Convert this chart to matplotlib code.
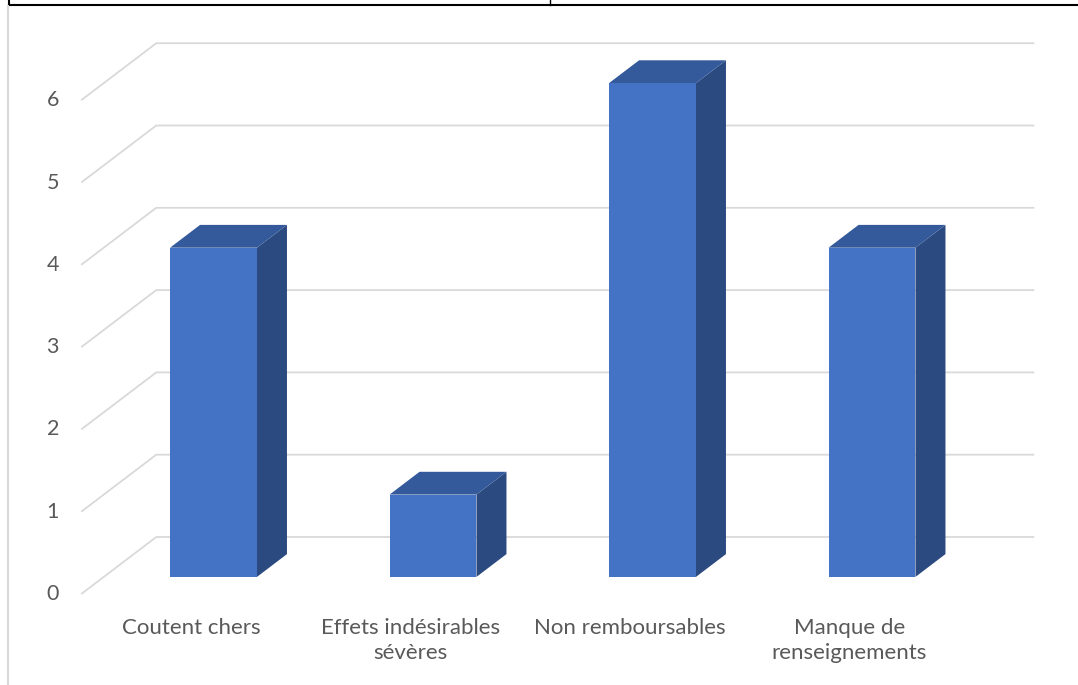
import numpy as np
import matplotlib.pyplot as plt
from matplotlib.patches import Polygon

categories = ["Coutent chers", "Effets indésirables\nsévères",
              "Non remboursables", "Manque de\nrenseignements"]
values = [4, 1, 6, 4]
yticks = [0, 1, 2, 3, 4, 5, 6]

FRONT = "#4472C4"
SIDE = "#2B4A80"
TOP = "#345A9B"
GRID = "#D9D9D9"
TEXT = "#595959"

# oblique depth vector (data units) and bar geometry
depth = np.array([0.3417, 0.6926])
bar_w = 0.396
t_front, t_back = 0.3, 0.7

W, H = 1078, 685
fig = plt.figure(figsize=(W / 100, H / 100), dpi=100)
ax = fig.add_axes([0, 0, 1, 1])
ax.set_xlim(-0.3702, 4.5410)
ax.set_ylim(-1.1057, 7.2175)
ax.axis("off")

# floor/wall gridlines
for v in yticks:
    xs = [0, depth[0], 4 + depth[0]]
    ys = [v, v + depth[1], v + depth[1]]
    ax.plot(xs, ys, color=GRID, lw=1.3, solid_capstyle="butt", zorder=1)
    ax.text(-0.13, v, str(v), ha="center", va="center", fontsize=15.5,
            color=TEXT, family="Lato")

# 3D columns
for i, v in enumerate(values):
    x0 = i + 0.5 - bar_w / 2
    x1 = x0 + bar_w
    f = depth * t_front
    b = depth * t_back
    front = [(x0 + f[0], f[1]), (x1 + f[0], f[1]),
             (x1 + f[0], v + f[1]), (x0 + f[0], v + f[1])]
    side = [(x1 + f[0], f[1]), (x1 + b[0], b[1]),
            (x1 + b[0], v + b[1]), (x1 + f[0], v + f[1])]
    top = [(x0 + f[0], v + f[1]), (x1 + f[0], v + f[1]),
           (x1 + b[0], v + b[1]), (x0 + b[0], v + b[1])]
    ax.add_patch(Polygon(side, closed=True, fc=SIDE, ec="none", zorder=3))
    ax.add_patch(Polygon(top, closed=True, fc=TOP, ec="none", zorder=3))
    ax.add_patch(Polygon(front, closed=True, fc=FRONT, ec="none", zorder=4))

# category labels
for i, lab in enumerate(categories):
    ax.text(i + 0.5, -0.29, lab, ha="center", va="top", fontsize=16,
            color=TEXT, family="Lato", linespacing=1.3)

# table borders around the chart
fig.add_artist(plt.Line2D([9 / W, 1], [1 - 5 / H, 1 - 5 / H], color="black", lw=1.5))
fig.add_artist(plt.Line2D([9 / W, 9 / W], [1 - 5 / H, 1], color="black", lw=1.5))
fig.add_artist(plt.Line2D([550 / W, 550 / W], [1 - 5 / H, 1], color="black", lw=1))
fig.add_artist(plt.Line2D([7.5 / W, 7.5 / W], [0, 1 - 6 / H], color=GRID, lw=1.5))

fig.savefig("out.png", dpi=100)
